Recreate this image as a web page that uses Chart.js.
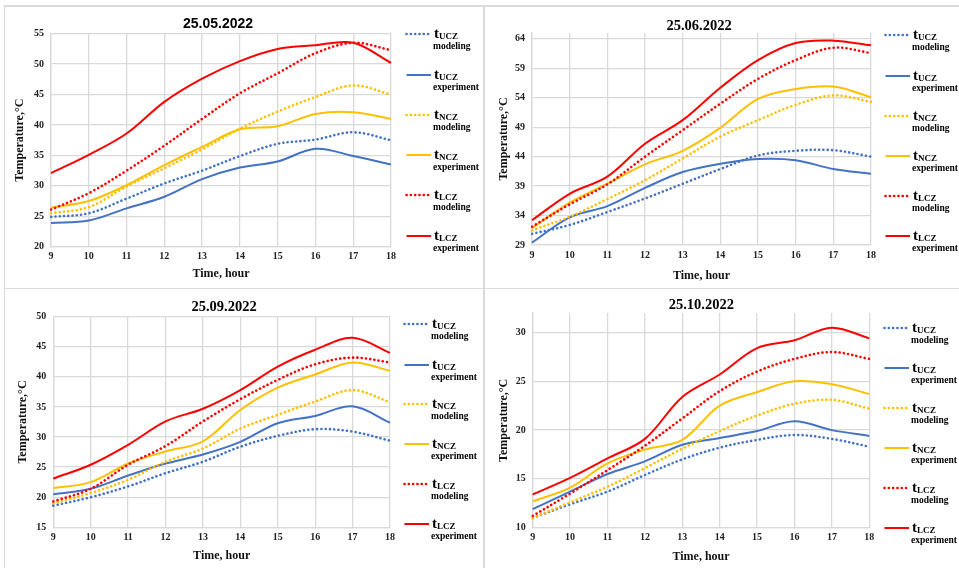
<!DOCTYPE html>
<html>
<head>
<meta charset="utf-8">
<script src="https://cdn.jsdelivr.net/npm/chart.js@4.4.1/dist/chart.umd.min.js"></script>
<style>
body { margin: 0; background: #fff; width: 959px; height: 568px; overflow: hidden; position: relative; font-family: 'Liberation Serif', 'Times New Roman', serif; }
.frame { position: absolute; background: #dadada; }
.panel { position: absolute; }
.ttl { position: absolute; width: 200px; text-align: center; font-weight: bold; font-size: 14.5px; line-height: 16px; color: #000; }
.lg { position: absolute; width: 80px; height: 1px; }
.lg svg { position: absolute; left: 0; top: -2px; }
.lg .t { position: absolute; left: 29px; top: -7.6px; font-weight: bold; font-size: 15px; line-height: 15px; white-space: nowrap; color: #000; }
.lg .t sub { font-size: 9px; vertical-align: -1px; line-height: 0; }
.lg .m { position: absolute; left: 28px; top: 6.8px; font-weight: bold; font-size: 9.5px; line-height: 10px; white-space: nowrap; color: #000; }
</style>
</head>
<body>
<div class="frame" style="left:4px;top:5px;width:955px;height:1.5px"></div>
<div class="frame" style="left:3.5px;top:5px;width:1.5px;height:563px"></div>
<div class="frame" style="left:482.5px;top:5px;width:2px;height:563px"></div>
<div class="frame" style="left:4px;top:287.5px;width:955px;height:1.5px"></div>
<script>
const hours = ['9', '10', '11', '12', '13', '14', '15', '16', '17', '18'];

// 25.05.2022
const mayUczModel = [24.9, 25.5, 27.9, 30.4, 32.5, 34.9, 36.9, 37.6, 38.8, 37.5];
const mayUczExp   = [23.9, 24.3, 26.3, 28.2, 31.1, 33.0, 34.0, 36.1, 34.9, 33.5];
const mayNczModel = [25.5, 26.5, 29.9, 32.9, 36.0, 39.4, 42.2, 44.6, 46.5, 45.0];
const mayNczExp   = [26.4, 27.5, 30.1, 33.4, 36.4, 39.3, 39.8, 41.8, 42.1, 41.0];
const mayLczModel = [26.1, 28.8, 32.5, 36.6, 41.0, 45.2, 48.5, 51.8, 53.5, 52.3];
const mayLczExp   = [32.1, 35.1, 38.6, 43.8, 47.6, 50.5, 52.5, 53.1, 53.5, 50.2];
const mayTicks = [20, 25, 30, 35, 40, 45, 50, 55];

// 25.06.2022
const junUczModel = [30.9, 32.4, 34.6, 36.9, 39.4, 41.9, 44.2, 45.0, 45.1, 44.0];
const junUczExp   = [29.4, 33.7, 35.6, 38.7, 41.4, 42.8, 43.6, 43.4, 41.9, 41.1];
const junNczModel = [31.5, 33.8, 36.8, 40.0, 43.7, 47.4, 50.2, 52.8, 54.4, 53.3];
const junNczExp   = [31.9, 36.2, 39.4, 42.7, 45.0, 48.9, 53.8, 55.5, 55.9, 54.1];
const junLczModel = [32.1, 35.9, 39.3, 44.0, 48.5, 53.0, 57.2, 60.4, 62.5, 61.6];
const junLczExp   = [33.2, 37.7, 40.6, 46.2, 50.2, 55.7, 60.4, 63.3, 63.7, 62.9];
const junTicks = [29, 34, 39, 44, 49, 54, 59, 64];

// 25.09.2022
const sepUczModel = [18.6, 20.0, 21.8, 24.0, 25.9, 28.4, 30.2, 31.3, 30.9, 29.4];
const sepUczExp   = [20.5, 21.4, 23.6, 25.6, 27.1, 29.2, 32.3, 33.5, 35.1, 32.4];
const sepNczModel = [19.0, 20.7, 22.9, 25.9, 28.1, 31.4, 33.7, 35.9, 37.8, 35.8];
const sepNczExp   = [21.5, 22.5, 25.6, 27.6, 29.3, 34.5, 38.2, 40.4, 42.4, 41.0];
const sepLczModel = [19.3, 21.4, 25.4, 28.5, 32.6, 36.3, 39.5, 42.1, 43.2, 42.4];
const sepLczExp   = [23.1, 25.4, 28.7, 32.6, 34.7, 37.8, 41.7, 44.5, 46.5, 44.0];
const sepTicks = [15, 20, 25, 30, 35, 40, 45, 50];

// 25.10.2022
const octUczModel = [11.0, 12.4, 13.7, 15.4, 17.0, 18.2, 19.0, 19.5, 19.1, 18.3];
const octUczExp   = [11.9, 13.7, 15.5, 16.8, 18.5, 19.2, 19.9, 20.9, 20.0, 19.4];
const octNczModel = [11.0, 12.6, 14.2, 16.1, 18.1, 19.9, 21.5, 22.7, 23.1, 22.2];
const octNczExp   = [12.7, 14.1, 16.6, 18.0, 19.0, 22.5, 23.9, 25.0, 24.7, 23.7];
const octLczModel = [11.2, 13.5, 15.9, 18.4, 21.2, 24.0, 26.0, 27.3, 28.0, 27.3];
const octLczExp   = [13.4, 15.1, 17.1, 19.1, 23.4, 25.7, 28.4, 29.2, 30.5, 29.4];
const octTicks = [10, 15, 20, 25, 30];

const seriesZones = ['UCZ', 'UCZ', 'NCZ', 'NCZ', 'LCZ', 'LCZ'];
const seriesKinds = ['modeling', 'experiment', 'modeling', 'experiment', 'modeling', 'experiment'];
const seriesColors = ['#4472c4', '#4472c4', '#ffc000', '#ffc000', '#ff0000', '#ff0000'];
const seriesDotted = [true, false, true, false, true, false];

const gridColor = '#d9d9d9';
const serif = "'Liberation Serif', 'Times New Roman', serif";

const panels = [
    { title: '25.05.2022', titleFont: "'Liberation Sans', Arial, sans-serif", titleSize: 14, titleX: 218, titleY: 22.5,
      left: 4, top: 5, w: 479, h: 283, plotL: 47, plotR: 387, plotT: 28.7, plotB: 241.7,
      ymin: 20, ymax: 55, ticks: mayTicks, yTitlePad: 8.8, xTitlePad: 6.8,
      series: [mayUczModel, mayUczExp, mayNczModel, mayNczExp, mayLczModel, mayLczExp],
      legendX: 405, legendY: [34, 75, 115, 155, 195, 236] },
    { title: '25.06.2022', titleFont: serif, titleSize: 14.5, titleX: 699, titleY: 24.7,
      left: 483, top: 5, w: 476, h: 283, plotL: 49, plotR: 388, plotT: 28, plotB: 240,
      ymin: 29, ymax: 65, ticks: junTicks, yTitlePad: 14.1, xTitlePad: 5,
      series: [junUczModel, junUczExp, junNczModel, junNczExp, junLczModel, junLczExp],
      legendX: 884, legendY: [35, 76, 116, 156, 196, 236] },
    { title: '25.09.2022', titleFont: serif, titleSize: 14.5, titleX: 224, titleY: 306,
      left: 4, top: 288, w: 479, h: 280, plotL: 49.3, plotR: 386, plotT: 28.7, plotB: 239.3,
      ymin: 15, ymax: 50, ticks: sepTicks, yTitlePad: 12.1, xTitlePad: 5.3,
      series: [sepUczModel, sepUczExp, sepNczModel, sepNczExp, sepLczModel, sepLczExp],
      legendX: 403, legendY: [324, 365, 404, 444, 484, 524] },
    { title: '25.10.2022', titleFont: serif, titleSize: 14.5, titleX: 701.3, titleY: 304,
      left: 483, top: 288, w: 476, h: 280, plotL: 49.7, plotR: 386.3, plotT: 25, plotB: 239.7,
      ymin: 10, ymax: 32, ticks: octTicks, yTitlePad: 13.8, xTitlePad: 3.8,
      series: [octUczModel, octUczExp, octNczModel, octNczExp, octLczModel, octLczExp],
      legendX: 883, legendY: [328, 368, 408, 448, 488, 528] }
];

function crearTitulo(p) {
    const d = document.createElement('div');
    d.className = 'ttl';
    d.textContent = p.title;
    d.style.fontFamily = p.titleFont;
    d.style.fontSize = p.titleSize + 'px';
    d.style.left = (p.titleX - 100) + 'px';
    d.style.top = (p.titleY - 8) + 'px';
    document.body.appendChild(d);
}

function crearLeyenda(p) {
    seriesZones.forEach((zona, i) => {
        const d = document.createElement('div');
        d.className = 'lg';
        d.style.left = p.legendX + 'px';
        d.style.top = p.legendY[i] + 'px';
        const dash = seriesDotted[i] ? 'stroke-dasharray="0.1 4.2" stroke-linecap="round" stroke-width="2.6"' : 'stroke-width="2"';
        d.innerHTML =
            `<svg width="27" height="4"><line x1="1.5" y1="2" x2="26" y2="2" stroke="${seriesColors[i]}" ${dash}/></svg>` +
            `<div class="t">t<sub>${zona}</sub></div>` +
            `<div class="m">${seriesKinds[i]}</div>`;
        document.body.appendChild(d);
    });
}

function crearGrafico(p) {
    const div = document.createElement('div');
    div.className = 'panel';
    div.style.left = p.left + 'px';
    div.style.top = p.top + 'px';
    const canvas = document.createElement('canvas');
    canvas.width = p.w;
    canvas.height = p.h;
    div.appendChild(canvas);
    document.body.appendChild(div);

    new Chart(canvas.getContext('2d'), {
        type: 'line',
        data: {
            labels: hours,
            datasets: p.series.map((valores, i) => ({
                label: 't' + seriesZones[i] + ' ' + seriesKinds[i],
                data: valores,
                borderColor: seriesColors[i],
                borderWidth: seriesDotted[i] ? 2.6 : 2,
                borderDash: seriesDotted[i] ? [0.1, 4.2] : [],
                borderCapStyle: seriesDotted[i] ? 'round' : 'butt',
                pointRadius: 0,
                tension: 0.35,
                fill: false,
                order: 5 - i
            }))
        },
        options: {
            responsive: false,
            animation: false,
            layout: { padding: { left: 0, top: p.plotT, right: p.w - p.plotR, bottom: 0 } },
            plugins: { legend: { display: false }, title: { display: false }, tooltip: { enabled: false } },
            scales: {
                x: {
                    type: 'category',
                    offset: false,
                    grid: { color: gridColor, lineWidth: 1.3, drawTicks: false },
                    border: { color: gridColor, width: 1.3 },
                    ticks: { font: { family: serif, size: 10, weight: 'bold' }, color: '#222', padding: 4, maxRotation: 0, autoSkip: false },
                    title: { display: true, text: 'Time, hour', color: '#111', font: { family: serif, size: 12, weight: 'bold' }, padding: { top: 0, bottom: p.xTitlePad } },
                    afterFit: s => { s.height = p.h - p.plotB; s.paddingLeft = 0; s.paddingRight = 0; }
                },
                y: {
                    min: p.ymin,
                    max: p.ymax,
                    grid: { color: gridColor, lineWidth: 1.3, drawTicks: false },
                    border: { color: gridColor, width: 1.3 },
                    ticks: { font: { family: serif, size: 10, weight: 'bold' }, color: '#222', padding: 7 },
                    title: { display: true, text: 'Temperature,°C', color: '#111', font: { family: serif, size: 12, weight: 'bold' }, padding: { top: p.yTitlePad, bottom: 0 } },
                    afterBuildTicks: s => { s.ticks = p.ticks.map(v => ({ value: v })); },
                    afterFit: s => { s.width = p.plotL; s.paddingTop = 0; s.paddingBottom = 0; }
                }
            }
        }
    });
}

panels.forEach(p => {
    crearGrafico(p);
    crearTitulo(p);
    crearLeyenda(p);
});
</script>
</body>
</html>
